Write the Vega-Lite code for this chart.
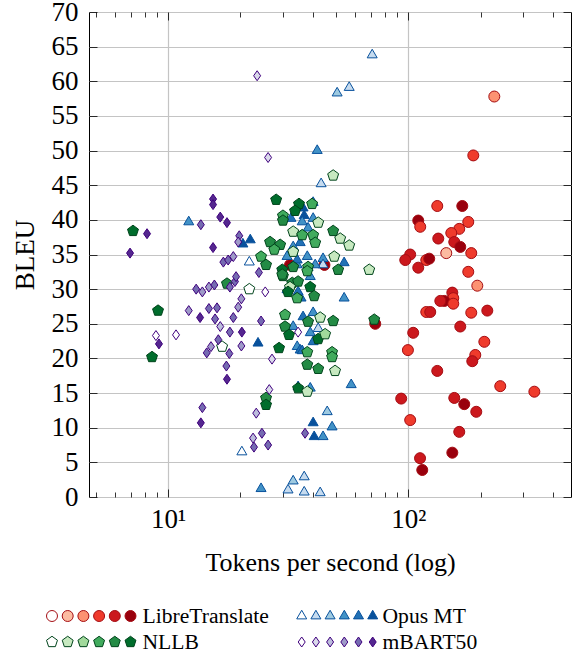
{
  "$schema": "https://vega.github.io/schema/vega-lite/v6.json",
  "padding": {"left": 10, "top": -3, "right": 0, "bottom": 0},
  "background": "white",
  "config": {
    "font": "Liberation Serif",
    "axis": {"labelFont": "Liberation Serif", "titleFont": "Liberation Serif"},
    "text": {"font": "Liberation Serif"},
    "view": {"stroke": "black", "strokeWidth": 1}
  },
  "datasets": {
    "pts": [
      {"s":"LibreTranslate","l":2,"x":228.2,"y":57.8},
      {"s":"LibreTranslate","l":3,"x":186.6,"y":49.3},
      {"s":"LibreTranslate","l":3,"x":132.1,"y":42.0},
      {"s":"LibreTranslate","l":5,"x":167.9,"y":42.0},
      {"s":"LibreTranslate","l":5,"x":110.1,"y":39.9},
      {"s":"LibreTranslate","l":3,"x":112.2,"y":39.0},
      {"s":"LibreTranslate","l":3,"x":177.8,"y":39.7},
      {"s":"LibreTranslate","l":3,"x":163.1,"y":38.7},
      {"s":"LibreTranslate","l":3,"x":151.1,"y":38.1},
      {"s":"LibreTranslate","l":4,"x":133.4,"y":37.3},
      {"s":"LibreTranslate","l":4,"x":155.5,"y":36.8},
      {"s":"LibreTranslate","l":5,"x":164.7,"y":36.1},
      {"s":"LibreTranslate","l":1,"x":144.0,"y":35.2},
      {"s":"LibreTranslate","l":3,"x":183.0,"y":35.2},
      {"s":"LibreTranslate","l":4,"x":101.9,"y":35.0},
      {"s":"LibreTranslate","l":4,"x":97.2,"y":34.2},
      {"s":"LibreTranslate","l":3,"x":118.9,"y":34.2},
      {"s":"LibreTranslate","l":5,"x":122.3,"y":34.4},
      {"s":"LibreTranslate","l":4,"x":110.1,"y":33.1},
      {"s":"LibreTranslate","l":3,"x":177.8,"y":32.5},
      {"s":"LibreTranslate","l":2,"x":193.9,"y":30.5},
      {"s":"LibreTranslate","l":4,"x":152.6,"y":29.5},
      {"s":"LibreTranslate","l":3,"x":154.0,"y":28.7},
      {"s":"LibreTranslate","l":5,"x":141.3,"y":28.3},
      {"s":"LibreTranslate","l":4,"x":136.0,"y":28.3},
      {"s":"LibreTranslate","l":3,"x":154.0,"y":27.9},
      {"s":"LibreTranslate","l":3,"x":118.9,"y":26.7},
      {"s":"LibreTranslate","l":4,"x":123.5,"y":26.7},
      {"s":"LibreTranslate","l":3,"x":183.0,"y":26.6},
      {"s":"LibreTranslate","l":4,"x":213.4,"y":26.9},
      {"s":"LibreTranslate","l":4,"x":164.7,"y":24.6},
      {"s":"LibreTranslate","l":4,"x":104.9,"y":23.7},
      {"s":"LibreTranslate","l":3,"x":207.4,"y":22.4},
      {"s":"LibreTranslate","l":3,"x":190.2,"y":20.5},
      {"s":"LibreTranslate","l":4,"x":184.8,"y":19.6},
      {"s":"LibreTranslate","l":3,"x":99.7,"y":21.2},
      {"s":"LibreTranslate","l":4,"x":132.1,"y":18.2},
      {"s":"LibreTranslate","l":3,"x":241.6,"y":16.0},
      {"s":"LibreTranslate","l":3,"x":335.0,"y":15.2},
      {"s":"LibreTranslate","l":4,"x":93.5,"y":14.2},
      {"s":"LibreTranslate","l":4,"x":155.5,"y":14.3},
      {"s":"LibreTranslate","l":5,"x":171.1,"y":13.4},
      {"s":"LibreTranslate","l":4,"x":192.0,"y":12.3},
      {"s":"LibreTranslate","l":3,"x":101.9,"y":11.1},
      {"s":"LibreTranslate","l":4,"x":163.1,"y":9.4},
      {"s":"LibreTranslate","l":5,"x":152.6,"y":6.4},
      {"s":"LibreTranslate","l":4,"x":112.0,"y":5.6},
      {"s":"LibreTranslate","l":5,"x":114.4,"y":3.9},
      {"s":"LibreTranslate","l":5,"x":72.9,"y":25.0},
      {"s":"LibreTranslate","l":5,"x":32.2,"y":33.5},
      {"s":"LibreTranslate","l":5,"x":44.8,"y":33.5},

      {"s":"Opus MT","l":1,"x":70.8,"y":63.8},
      {"s":"Opus MT","l":1,"x":56.8,"y":59.1},
      {"s":"Opus MT","l":2,"x":50.6,"y":58.3},
      {"s":"Opus MT","l":3,"x":41.8,"y":50.0},
      {"s":"Opus MT","l":1,"x":43.4,"y":45.2},
      {"s":"Opus MT","l":3,"x":12.2,"y":39.7},
      {"s":"Opus MT","l":5,"x":22.0,"y":37.1},
      {"s":"Opus MT","l":5,"x":20.5,"y":36.5},
      {"s":"Opus MT","l":0,"x":21.8,"y":33.9},
      {"s":"Opus MT","l":3,"x":40.2,"y":42.5},
      {"s":"Opus MT","l":5,"x":36.5,"y":41.7},
      {"s":"Opus MT","l":5,"x":36.9,"y":40.6},
      {"s":"Opus MT","l":3,"x":36.2,"y":39.7},
      {"s":"Opus MT","l":3,"x":38.3,"y":38.8},
      {"s":"Opus MT","l":3,"x":40.2,"y":40.2},
      {"s":"Opus MT","l":4,"x":35.5,"y":36.7},
      {"s":"Opus MT","l":3,"x":33.2,"y":36.1},
      {"s":"Opus MT","l":3,"x":34.5,"y":33.5},
      {"s":"Opus MT","l":3,"x":38.0,"y":34.7},
      {"s":"Opus MT","l":3,"x":44.2,"y":34.4},
      {"s":"Opus MT","l":1,"x":44.2,"y":33.5},
      {"s":"Opus MT","l":4,"x":54.1,"y":33.8},
      {"s":"Opus MT","l":3,"x":41.0,"y":33.5},
      {"s":"Opus MT","l":3,"x":39.1,"y":31.8},
      {"s":"Opus MT","l":4,"x":31.3,"y":29.9},
      {"s":"Opus MT","l":4,"x":35.8,"y":28.7},
      {"s":"Opus MT","l":3,"x":54.1,"y":28.7},
      {"s":"Opus MT","l":4,"x":36.5,"y":26.0},
      {"s":"Opus MT","l":3,"x":40.2,"y":26.6},
      {"s":"Opus MT","l":3,"x":39.1,"y":23.7},
      {"s":"Opus MT","l":3,"x":33.2,"y":24.6},
      {"s":"Opus MT","l":3,"x":34.5,"y":21.7},
      {"s":"Opus MT","l":4,"x":35.5,"y":21.2},
      {"s":"Opus MT","l":4,"x":40.2,"y":22.4},
      {"s":"Opus MT","l":3,"x":57.9,"y":16.2},
      {"s":"Opus MT","l":5,"x":34.8,"y":15.9},
      {"s":"Opus MT","l":3,"x":39.1,"y":15.7},
      {"s":"Opus MT","l":2,"x":46.0,"y":12.3},
      {"s":"Opus MT","l":5,"x":40.2,"y":10.7},
      {"s":"Opus MT","l":3,"x":48.2,"y":10.1},
      {"s":"Opus MT","l":5,"x":40.6,"y":8.7},
      {"s":"Opus MT","l":3,"x":44.2,"y":8.7},
      {"s":"Opus MT","l":0,"x":20.3,"y":6.5},
      {"s":"Opus MT","l":3,"x":24.4,"y":1.2},
      {"s":"Opus MT","l":2,"x":33.2,"y":2.3},
      {"s":"Opus MT","l":1,"x":36.9,"y":2.9},
      {"s":"Opus MT","l":1,"x":31.6,"y":1.0},
      {"s":"Opus MT","l":1,"x":36.9,"y":0.7},
      {"s":"Opus MT","l":1,"x":43.0,"y":0.6},
      {"s":"Opus MT","l":5,"x":23.7,"y":22.2},
      {"s":"Opus MT","l":3,"x":31.3,"y":34.7},
      {"s":"Opus MT","l":1,"x":42.2,"y":24.3},
      {"s":"Opus MT","l":4,"x":32.5,"y":40.2},
      {"s":"Opus MT","l":4,"x":34.8,"y":29.6},
      {"s":"Opus MT","l":3,"x":38.3,"y":33.1},
      {"s":"Opus MT","l":4,"x":34.5,"y":34.2},
      {"s":"Opus MT","l":4,"x":36.2,"y":21.1},

      {"s":"NLLB","l":5,"x":7.15,"y":38.4},
      {"s":"NLLB","l":5,"x":9.09,"y":26.9},
      {"s":"NLLB","l":5,"x":8.58,"y":20.2},
      {"s":"NLLB","l":0,"x":16.8,"y":21.7},
      {"s":"NLLB","l":0,"x":21.8,"y":30.0},
      {"s":"NLLB","l":4,"x":17.6,"y":30.8},
      {"s":"NLLB","l":3,"x":24.4,"y":34.7},
      {"s":"NLLB","l":4,"x":25.6,"y":33.5},
      {"s":"NLLB","l":4,"x":26.6,"y":36.8},
      {"s":"NLLB","l":4,"x":29.3,"y":36.4},
      {"s":"NLLB","l":3,"x":27.7,"y":35.7},
      {"s":"NLLB","l":5,"x":28.2,"y":42.9},
      {"s":"NLLB","l":3,"x":30.1,"y":40.6},
      {"s":"NLLB","l":4,"x":30.1,"y":39.9},
      {"s":"NLLB","l":5,"x":35.1,"y":42.3},
      {"s":"NLLB","l":5,"x":33.8,"y":41.3},
      {"s":"NLLB","l":3,"x":39.8,"y":42.3},
      {"s":"NLLB","l":1,"x":42.2,"y":39.6},
      {"s":"NLLB","l":1,"x":33.2,"y":38.3},
      {"s":"NLLB","l":3,"x":36.2,"y":37.8},
      {"s":"NLLB","l":3,"x":40.2,"y":37.8},
      {"s":"NLLB","l":3,"x":41.0,"y":36.7},
      {"s":"NLLB","l":4,"x":48.7,"y":38.4},
      {"s":"NLLB","l":1,"x":52.1,"y":37.3},
      {"s":"NLLB","l":1,"x":56.8,"y":36.3},
      {"s":"NLLB","l":1,"x":33.2,"y":35.4},
      {"s":"NLLB","l":1,"x":49.2,"y":34.7},
      {"s":"NLLB","l":4,"x":51.1,"y":32.8},
      {"s":"NLLB","l":1,"x":68.8,"y":32.8},
      {"s":"NLLB","l":5,"x":29.9,"y":32.8},
      {"s":"NLLB","l":4,"x":33.2,"y":33.2},
      {"s":"NLLB","l":3,"x":38.3,"y":33.2},
      {"s":"NLLB","l":3,"x":38.0,"y":32.6},
      {"s":"NLLB","l":3,"x":30.1,"y":31.9},
      {"s":"NLLB","l":4,"x":32.9,"y":30.9},
      {"s":"NLLB","l":4,"x":34.8,"y":31.1},
      {"s":"NLLB","l":5,"x":39.1,"y":30.3},
      {"s":"NLLB","l":1,"x":32.2,"y":30.3},
      {"s":"NLLB","l":3,"x":34.5,"y":28.7},
      {"s":"NLLB","l":4,"x":40.6,"y":29.0},
      {"s":"NLLB","l":5,"x":31.6,"y":29.6},
      {"s":"NLLB","l":3,"x":30.7,"y":26.3},
      {"s":"NLLB","l":4,"x":38.3,"y":25.3},
      {"s":"NLLB","l":1,"x":43.0,"y":25.9},
      {"s":"NLLB","l":4,"x":48.7,"y":25.4},
      {"s":"NLLB","l":4,"x":72.2,"y":25.6},
      {"s":"NLLB","l":4,"x":30.7,"y":24.6},
      {"s":"NLLB","l":5,"x":31.9,"y":23.4},
      {"s":"NLLB","l":5,"x":42.2,"y":22.8},
      {"s":"NLLB","l":2,"x":45.1,"y":23.5},
      {"s":"NLLB","l":5,"x":29.0,"y":21.5},
      {"s":"NLLB","l":3,"x":38.0,"y":20.9},
      {"s":"NLLB","l":3,"x":48.2,"y":20.9},
      {"s":"NLLB","l":3,"x":48.2,"y":20.2},
      {"s":"NLLB","l":4,"x":38.0,"y":19.1},
      {"s":"NLLB","l":4,"x":42.2,"y":18.5},
      {"s":"NLLB","l":1,"x":49.6,"y":18.2},
      {"s":"NLLB","l":5,"x":34.8,"y":15.7},
      {"s":"NLLB","l":1,"x":38.0,"y":15.2},
      {"s":"NLLB","l":4,"x":25.6,"y":14.3},
      {"s":"NLLB","l":5,"x":25.6,"y":13.3},
      {"s":"NLLB","l":1,"x":48.7,"y":46.4},
      {"s":"NLLB","l":4,"x":29.9,"y":32.1},

      {"s":"mBART50","l":1,"x":23.5,"y":60.8},
      {"s":"mBART50","l":1,"x":26.1,"y":49.0},
      {"s":"mBART50","l":5,"x":15.4,"y":43.0},
      {"s":"mBART50","l":5,"x":15.4,"y":42.2},
      {"s":"mBART50","l":5,"x":16.5,"y":40.4},
      {"s":"mBART50","l":5,"x":17.6,"y":39.6},
      {"s":"mBART50","l":4,"x":13.7,"y":39.3},
      {"s":"mBART50","l":5,"x":8.18,"y":38.0},
      {"s":"mBART50","l":5,"x":6.95,"y":35.2},
      {"s":"mBART50","l":4,"x":19.8,"y":37.7},
      {"s":"mBART50","l":3,"x":19.6,"y":36.8},
      {"s":"mBART50","l":5,"x":15.4,"y":36.0},
      {"s":"mBART50","l":4,"x":17.0,"y":33.9},
      {"s":"mBART50","l":4,"x":17.8,"y":34.2},
      {"s":"mBART50","l":3,"x":18.7,"y":34.7},
      {"s":"mBART50","l":4,"x":13.1,"y":30.0},
      {"s":"mBART50","l":3,"x":13.9,"y":29.6},
      {"s":"mBART50","l":3,"x":14.8,"y":30.3},
      {"s":"mBART50","l":4,"x":15.6,"y":30.6},
      {"s":"mBART50","l":4,"x":18.1,"y":30.3},
      {"s":"mBART50","l":4,"x":19.0,"y":31.1},
      {"s":"mBART50","l":4,"x":19.2,"y":31.8},
      {"s":"mBART50","l":4,"x":23.9,"y":32.4},
      {"s":"mBART50","l":0,"x":25.4,"y":29.6},
      {"s":"mBART50","l":3,"x":20.2,"y":28.6},
      {"s":"mBART50","l":3,"x":19.6,"y":27.4},
      {"s":"mBART50","l":3,"x":12.2,"y":26.9},
      {"s":"mBART50","l":5,"x":13.6,"y":25.9},
      {"s":"mBART50","l":4,"x":14.8,"y":27.2},
      {"s":"mBART50","l":4,"x":16.0,"y":27.3},
      {"s":"mBART50","l":4,"x":15.7,"y":25.7},
      {"s":"mBART50","l":4,"x":18.7,"y":25.9},
      {"s":"mBART50","l":4,"x":24.4,"y":25.4},
      {"s":"mBART50","l":2,"x":16.5,"y":24.6},
      {"s":"mBART50","l":4,"x":18.1,"y":23.8},
      {"s":"mBART50","l":5,"x":20.3,"y":23.8},
      {"s":"mBART50","l":0,"x":8.91,"y":23.3},
      {"s":"mBART50","l":0,"x":10.8,"y":23.4},
      {"s":"mBART50","l":5,"x":9.17,"y":22.1},
      {"s":"mBART50","l":4,"x":16.2,"y":22.7},
      {"s":"mBART50","l":3,"x":15.1,"y":21.7},
      {"s":"mBART50","l":4,"x":14.5,"y":20.8},
      {"s":"mBART50","l":4,"x":18.0,"y":20.7},
      {"s":"mBART50","l":3,"x":20.2,"y":21.8},
      {"s":"mBART50","l":1,"x":27.1,"y":19.9},
      {"s":"mBART50","l":4,"x":17.5,"y":18.9},
      {"s":"mBART50","l":5,"x":17.6,"y":17.0},
      {"s":"mBART50","l":1,"x":26.4,"y":15.5},
      {"s":"mBART50","l":4,"x":13.9,"y":12.9},
      {"s":"mBART50","l":5,"x":13.7,"y":10.7},
      {"s":"mBART50","l":2,"x":23.3,"y":12.1},
      {"s":"mBART50","l":4,"x":24.6,"y":9.2},
      {"s":"mBART50","l":2,"x":22.6,"y":8.5},
      {"s":"mBART50","l":4,"x":22.8,"y":7.2},
      {"s":"mBART50","l":4,"x":26.1,"y":7.5},
      {"s":"mBART50","l":0,"x":34.8,"y":23.8},
      {"s":"mBART50","l":4,"x":37.2,"y":9.2}
    ],
    "leg": [
      {"s":"LibreTranslate","l":0},{"s":"LibreTranslate","l":1},{"s":"LibreTranslate","l":2},{"s":"LibreTranslate","l":3},{"s":"LibreTranslate","l":4},{"s":"LibreTranslate","l":5},
      {"s":"Opus MT","l":0},{"s":"Opus MT","l":1},{"s":"Opus MT","l":2},{"s":"Opus MT","l":3},{"s":"Opus MT","l":4},{"s":"Opus MT","l":5},
      {"s":"NLLB","l":0},{"s":"NLLB","l":1},{"s":"NLLB","l":2},{"s":"NLLB","l":3},{"s":"NLLB","l":4},{"s":"NLLB","l":5},
      {"s":"mBART50","l":0},{"s":"mBART50","l":1},{"s":"mBART50","l":2},{"s":"mBART50","l":3},{"s":"mBART50","l":4},{"s":"mBART50","l":5}
    ]
  },
  "vconcat": [
    {
      "width": 482,
      "height": 485,
      "data": {"name": "pts"},
      "transform": [{"calculate": "datum.s + '-' + datum.l", "as": "k"}],
      "layer": [
        {
          "mark": {"type": "point", "filled": true, "size": 100, "strokeWidth": 1, "opacity": 1},
          "encoding": {
            "x": {
              "field": "x", "type": "quantitative",
              "scale": {"type": "log", "domain": [4.69, 476], "nice": false},
              "title": "Tokens per second (log)",
              "axis": {
                "orient": "bottom",
                "values": [5,6,7,8,9,10,20,30,40,50,60,70,80,90,100,200,300,400],
                "labelExpr": "datum.value == 10 ? '10¹' : (datum.value == 100 ? '10²' : '')",
                "labelFont": "Liberation Serif", "titleFont": "Liberation Serif",
                "labelFontSize": 27, "labelColor": "black", "labelPadding": 17, "labelOverlap": false, "labelFlush": false,
                "grid": true,
                "gridColor": "#c4c4c4",
                "gridOpacity": {"condition": {"test": "datum.value == 10 || datum.value == 100", "value": 1}, "value": 0},
                "gridWidth": 1.2,
                "tickColor": "black", "tickWidth": 0.8,
                "tickSize": {"condition": {"test": "datum.value == 10 || datum.value == 100", "value": -8}, "value": -5},
                "domain": false,
                "titleFontSize": 26, "titleFontWeight": "normal", "titleColor": "black", "titlePadding": 14
              }
            },
            "y": {
              "field": "y", "type": "quantitative",
              "scale": {"domain": [0, 70], "nice": false},
              "title": "BLEU",
              "axis": {
                "orient": "left",
                "values": [0,5,10,15,20,25,30,35,40,45,50,55,60,65,70],
                "labelFont": "Liberation Serif", "titleFont": "Liberation Serif",
                "labelFontSize": 27, "labelColor": "black", "labelPadding": 19, "labelFlush": false, "labelOverlap": false,
                "grid": true, "gridColor": "#c4c4c4", "gridWidth": 1.2,
                "tickColor": "black", "tickWidth": 0.8, "tickSize": -8,
                "domain": false,
                "titleFontSize": 27, "titleFontWeight": "normal", "titleColor": "black", "titlePadding": 12
              }
            },
            "fill": {
              "field": "k", "type": "nominal", "legend": null,
              "scale": {
                "domain": ["LibreTranslate-0","LibreTranslate-1","LibreTranslate-2","LibreTranslate-3","LibreTranslate-4","LibreTranslate-5",
                           "Opus MT-0","Opus MT-1","Opus MT-2","Opus MT-3","Opus MT-4","Opus MT-5",
                           "NLLB-0","NLLB-1","NLLB-2","NLLB-3","NLLB-4","NLLB-5",
                           "mBART50-0","mBART50-1","mBART50-2","mBART50-3","mBART50-4","mBART50-5"],
                "range": ["#ffffff","#fcbba1","#fc9272","#ef3b2c","#cb181d","#99000d",
                          "#ffffff","#c6dbef","#9ecae1","#4292c6","#2171b5","#08519c",
                          "#ffffff","#c7e9c0","#a1d99b","#41ab5d","#238b45","#006d2c",
                          "#ffffff","#dadaeb","#bcbddc","#9e9ac8","#756bb1","#54278f"]
              }
            },
            "stroke": {
              "field": "s", "type": "nominal", "legend": null,
              "scale": {"domain": ["LibreTranslate","Opus MT","NLLB","mBART50"], "range": ["#a50f15","#08519c","#00441b","#3f007d"]}
            },
            "shape": {
              "field": "s", "type": "nominal", "legend": null,
              "scale": {
                "domain": ["LibreTranslate","Opus MT","NLLB","mBART50"],
                "range": ["M1.1,0A1.1,1.1,0,1,1,-1.1,0A1.1,1.1,0,1,1,1.1,0Z",
                          "M0,-1.15L1,0.575L-1,0.575Z",
                          "M0,-1.15L1.094,-0.355L0.676,0.93L-0.676,0.93L-1.094,-0.355Z",
                          "M0,-1L0.7,0L0,1L-0.7,0Z"]
              }
            }
          }
        },
        {
          "mark": {"type": "point", "opacity": 0},
          "encoding": {
            "x": {
              "field": "x", "type": "quantitative",
              "axis": {
                "orient": "top", "title": null, "labels": false, "grid": false, "domain": false,
                "values": [5,6,7,8,9,10,20,30,40,50,60,70,80,90,100,200,300,400],
                "tickColor": "black", "tickWidth": 0.8,
                "tickSize": {"condition": {"test": "datum.value == 10 || datum.value == 100", "value": -8}, "value": -5}
              }
            },
            "y": {
              "field": "y", "type": "quantitative",
              "axis": {
                "orient": "right", "title": null, "labels": false, "grid": false, "domain": false,
                "values": [0,5,10,15,20,25,30,35,40,45,50,55,60,65,70],
                "tickColor": "black", "tickWidth": 0.8, "tickSize": -8
              }
            }
          }
        }
      ],
      "resolve": {"axis": {"x": "independent", "y": "independent"}}
    },
    {
      "bounds": "flush",
      "spacing": 162,
      "hconcat": [
        {
          "width": 49,
          "height": 52,
          "view": {"stroke": null},
          "data": {"name": "leg"},
          "transform": [
            {"filter": "datum.s == 'LibreTranslate' || datum.s == 'NLLB'"},
            {"calculate": "datum.s + '-' + datum.l", "as": "k"}
          ],
          "mark": {"type": "point", "filled": true, "size": 100, "strokeWidth": 1, "opacity": 1},
          "encoding": {
            "x": {"field": "l", "type": "quantitative", "scale": {"domain": [2.357, 5.478], "nice": false, "zero": false}, "axis": null},
            "y": {"field": "s", "type": "nominal", "sort": null, "scale": {"domain": ["LibreTranslate", "NLLB"]},
                  "axis": {"orient": "right", "title": null, "domain": false, "ticks": false, "grid": false, "labelFont": "Liberation Serif", "labelFontSize": 21.6, "labelColor": "black", "labelPadding": 4}},
            "fill": {
              "field": "k", "type": "nominal", "legend": null,
              "scale": {
                "domain": ["LibreTranslate-0","LibreTranslate-1","LibreTranslate-2","LibreTranslate-3","LibreTranslate-4","LibreTranslate-5",
                           "NLLB-0","NLLB-1","NLLB-2","NLLB-3","NLLB-4","NLLB-5"],
                "range": ["#ffffff","#fcbba1","#fc9272","#ef3b2c","#cb181d","#99000d",
                          "#ffffff","#c7e9c0","#a1d99b","#41ab5d","#238b45","#006d2c"]
              }
            },
            "stroke": {"field": "s", "type": "nominal", "legend": null, "scale": {"domain": ["LibreTranslate","NLLB"], "range": ["#a50f15","#00441b"]}},
            "shape": {"field": "s", "type": "nominal", "legend": null, "scale": {"domain": ["LibreTranslate","NLLB"],
              "range": ["M1.1,0A1.1,1.1,0,1,1,-1.1,0A1.1,1.1,0,1,1,1.1,0Z", "M0,-1.15L1.094,-0.355L0.676,0.93L-0.676,0.93L-1.094,-0.355Z"]}}
          }
        },
        {
          "width": 78,
          "height": 52,
          "view": {"stroke": null},
          "data": {"name": "leg"},
          "transform": [
            {"filter": "datum.s == 'Opus MT' || datum.s == 'mBART50'"},
            {"calculate": "datum.s + '-' + datum.l", "as": "k"}
          ],
          "mark": {"type": "point", "filled": true, "size": 100, "strokeWidth": 1, "opacity": 1},
          "encoding": {
            "x": {"field": "l", "type": "quantitative", "scale": {"domain": [-0.12, 5.373], "nice": false, "zero": false}, "axis": null},
            "y": {"field": "s", "type": "nominal", "sort": null, "scale": {"domain": ["Opus MT", "mBART50"]},
                  "axis": {"orient": "right", "title": null, "domain": false, "ticks": false, "grid": false, "labelFont": "Liberation Serif", "labelFontSize": 21.6, "labelColor": "black", "labelPadding": 4}},
            "fill": {
              "field": "k", "type": "nominal", "legend": null,
              "scale": {
                "domain": ["Opus MT-0","Opus MT-1","Opus MT-2","Opus MT-3","Opus MT-4","Opus MT-5",
                           "mBART50-0","mBART50-1","mBART50-2","mBART50-3","mBART50-4","mBART50-5"],
                "range": ["#ffffff","#c6dbef","#9ecae1","#4292c6","#2171b5","#08519c",
                          "#ffffff","#dadaeb","#bcbddc","#9e9ac8","#756bb1","#54278f"]
              }
            },
            "stroke": {"field": "s", "type": "nominal", "legend": null, "scale": {"domain": ["Opus MT","mBART50"], "range": ["#08519c","#3f007d"]}},
            "shape": {"field": "s", "type": "nominal", "legend": null, "scale": {"domain": ["Opus MT","mBART50"],
              "range": ["M0,-1.15L1,0.575L-1,0.575Z", "M0,-1L0.7,0L0,1L-0.7,0Z"]}}
          }
        }
      ]
    }
  ],
  "spacing": 27
}
